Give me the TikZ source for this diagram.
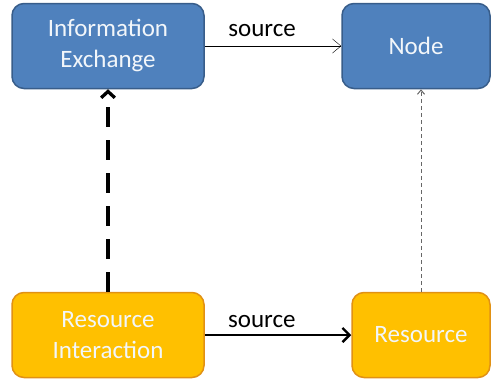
\documentclass[tikz,border=0pt]{standalone}
\usepackage{fontspec}
\setmainfont{Carlito}
\usepackage{xcolor}
\usepackage{tikz}
\usetikzlibrary{arrows}
\usetikzlibrary{arrows.meta}
\definecolor{blueFill}{RGB}{79,129,189}
\definecolor{blueLine}{RGB}{56,93,138}
\definecolor{orangeFill}{RGB}{255,192,0}
\definecolor{orangeLine}{RGB}{225,145,20}
\definecolor{textWhite}{RGB}{242,246,250}
\begin{document}
\begin{tikzpicture}[x=1pt,y=-1pt]
\tikzset{>={Straight Barb[length=3mm,width=5mm]}}
\tikzstyle{box} =[rounded corners=12pt, line width=1.5pt, text=textWhite, align=center, font=\fontsize{25}{31}\selectfont, minimum height=85pt]
\tikzstyle{blue box} =[box, fill=blueFill, draw=blueLine]
\tikzstyle{orange box} =[box, fill=orangeFill, draw=orangeLine]
\tikzstyle{lbl} =[font=\fontsize{25}{30}\selectfont, text=black]
\useasboundingbox (0,0) rectangle (493,381);
\node[blue box,minimum width=192pt](ie) at (108,46){Information\\Exchange};
\node[blue box,minimum width=148pt](nd) at (416,46){Node};
\node[orange box,minimum width=192pt](ri) at (108,335){Resource\\Interaction};
\node[orange box,minimum width=138pt](res) at (421,335){Resource};
\draw [->,thin] (ie) -- node[lbl,above=9pt,pos=0.42,inner sep=0pt]{source} (nd);
\draw [->,line width=2.4pt,>={Straight Barb[length=2.5mm,width=5mm]}] (ri) -- node[lbl,above=6pt,pos=0.39,inner sep=0pt]{source} (res);
\draw [->,line width=3.3pt,dash pattern=on 20pt off 13pt,>={Straight Barb[length=2.2mm,width=4.8mm]}] (ri.north) -- (ie.south);
\draw [->,line width=1pt,gray!80!black,dash pattern=on 4pt off 3pt,>={Straight Barb[length=1.5mm,width=2.5mm]}] (res.north) -- (res.north |- nd.south);
\end{tikzpicture}
\end{document}
